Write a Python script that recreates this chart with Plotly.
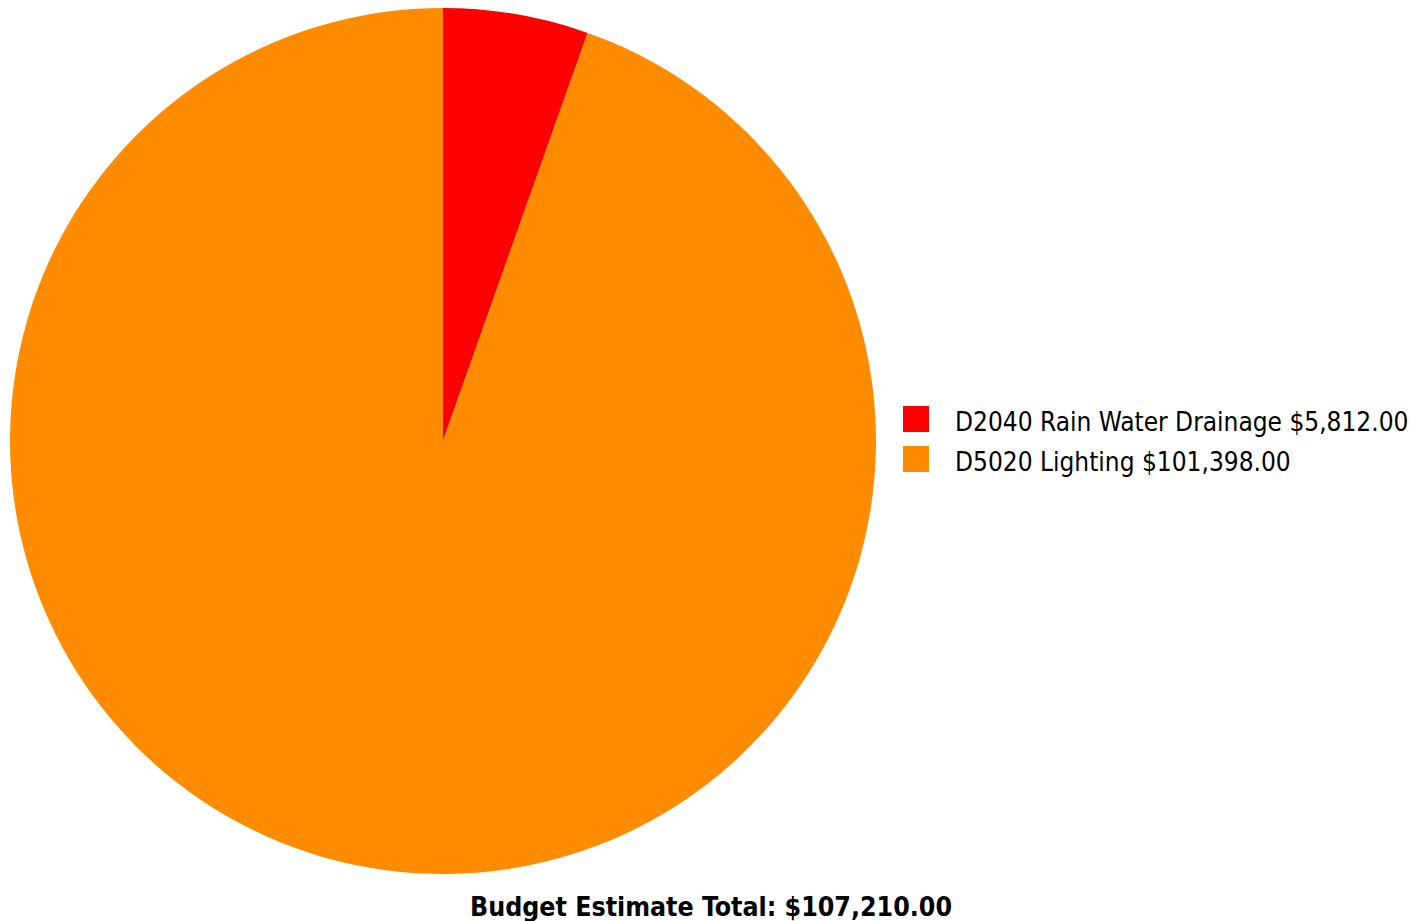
import plotly.graph_objects as go

# Budget line items
labels = ["D2040 Rain Water Drainage", "D5020 Lighting"]
values = [5812.00, 101398.00]
colors = ["#FF0000", "#FF8C00"]
title_text = "Budget Estimate Total: $107,210.00"

W, H = 1414, 921
FONT = "DejaVu Sans Condensed, DejaVu Sans, Verdana, sans-serif"


def px_x(x):
    return x / W


def px_y(y):
    return 1 - y / H


fig = go.Figure(
    go.Pie(
        labels=labels,
        values=values,
        marker=dict(colors=colors, line=dict(width=0)),
        sort=False,
        direction="clockwise",
        rotation=0,
        textinfo="none",
        hoverinfo="label+value+percent",
        showlegend=False,
        domain=dict(x=[px_x(10), px_x(876)], y=[px_y(874), px_y(8)]),
    )
)

# Legend: colour swatch plus label with its amount
shapes = []
annotations = []
for i, (lab, val, col) in enumerate(zip(labels, values, colors)):
    cy = 419 + 40 * i
    shapes.append(
        dict(type="rect", xref="paper", yref="paper",
             x0=px_x(903), x1=px_x(929), y0=px_y(cy + 13), y1=px_y(cy - 13),
             fillcolor=col, line=dict(width=0))
    )
    annotations.append(
        dict(text=f"{lab} ${val:,.2f}", xref="paper", yref="paper",
             x=px_x(953), y=px_y(cy + 3), xanchor="left", yanchor="middle",
             showarrow=False, font=dict(family=FONT, size=26, color="#000000"))
    )

annotations.append(
    dict(text=f"<b>{title_text}</b>", xref="paper", yref="paper",
         x=px_x(711), y=px_y(906), xanchor="center", yanchor="middle",
         showarrow=False, font=dict(family=FONT, size=26.5, color="#000000"))
)

fig.update_layout(
    width=W, height=H,
    margin=dict(l=0, r=0, t=0, b=0),
    paper_bgcolor="white",
    plot_bgcolor="white",
    shapes=shapes,
    annotations=annotations,
)

fig.write_html("out.html")
